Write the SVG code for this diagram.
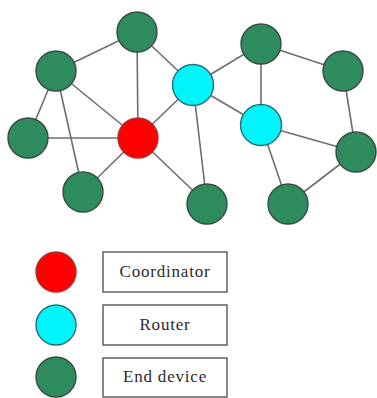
<svg xmlns="http://www.w3.org/2000/svg" width="377" height="398" viewBox="0 0 377 398">
<style>
.e{stroke:#6e6e6e;stroke-width:1.6;fill:none}
.n{stroke:#3a4a40;stroke-width:1.4}
.g{fill:#2e8b5e}
.r{fill:#ff0000;stroke:#a33}
.c{fill:#00f5fa;stroke:#2a6a7a}
.box{fill:#fff;stroke:#555;stroke-width:1.4}
.t{font-family:"Liberation Serif","DejaVu Serif","Times New Roman",serif;font-size:17px;fill:#2a2a2a;text-anchor:middle;letter-spacing:0.8px}
</style>
<rect width="377" height="398" fill="#fff"/>
<g id="connectors">
<line class="e" x1="137" y1="32" x2="56" y2="71"/>
<line class="e" x1="137" y1="32" x2="138" y2="138"/>
<line class="e" x1="137" y1="32" x2="193" y2="85"/>
<line class="e" x1="56" y1="71" x2="28" y2="138"/>
<line class="e" x1="56" y1="71" x2="83" y2="192"/>
<line class="e" x1="56" y1="71" x2="138" y2="138"/>
<line class="e" x1="28" y1="138" x2="138" y2="138"/>
<line class="e" x1="138" y1="138" x2="83" y2="192"/>
<line class="e" x1="138" y1="138" x2="193" y2="85"/>
<line class="e" x1="138" y1="138" x2="207" y2="204"/>
<line class="e" x1="193" y1="85" x2="207" y2="204"/>
<line class="e" x1="193" y1="85" x2="261" y2="44"/>
<line class="e" x1="193" y1="85" x2="261" y2="125"/>
<line class="e" x1="261" y1="44" x2="261" y2="125"/>
<line class="e" x1="261" y1="44" x2="343" y2="71"/>
<line class="e" x1="343" y1="71" x2="356" y2="152"/>
<line class="e" x1="261" y1="125" x2="356" y2="152"/>
<line class="e" x1="261" y1="125" x2="288" y2="204"/>
<line class="e" x1="288" y1="204" x2="356" y2="152"/>
</g>
<g id="n1"><circle class="n g" cx="137" cy="32" r="20"/></g>
<g id="n2"><circle class="n g" cx="56" cy="71" r="20"/></g>
<g id="n3"><circle class="n g" cx="28" cy="138" r="20"/></g>
<g id="n4"><circle class="n g" cx="83" cy="192" r="20"/></g>
<g id="coordinator"><circle class="n r" cx="138" cy="138" r="20"/></g>
<g id="router1"><circle class="n c" cx="193" cy="85" r="20.5"/></g>
<g id="n5"><circle class="n g" cx="207" cy="204" r="20"/></g>
<g id="n6"><circle class="n g" cx="261" cy="44" r="20"/></g>
<g id="n7"><circle class="n g" cx="343" cy="71" r="20"/></g>
<g id="router2"><circle class="n c" cx="261" cy="125" r="20.5"/></g>
<g id="n8"><circle class="n g" cx="356" cy="152" r="20"/></g>
<g id="n9"><circle class="n g" cx="288" cy="204" r="20"/></g>
<g id="legend-coordinator">
<circle class="n r" cx="56" cy="272" r="20"/>
<rect class="box" x="103" y="252" width="124" height="40"/>
<text class="t" x="165" y="277">Coordinator</text>
</g>
<g id="legend-router">
<circle class="n c" cx="56" cy="325" r="20"/>
<rect class="box" x="103" y="305" width="124" height="40"/>
<text class="t" x="165" y="330">Router</text>
</g>
<g id="legend-end">
<circle class="n g" cx="56" cy="377" r="20"/>
<rect class="box" x="103" y="358" width="124" height="39"/>
<text class="t" x="165" y="382">End device</text>
</g>
</svg>
